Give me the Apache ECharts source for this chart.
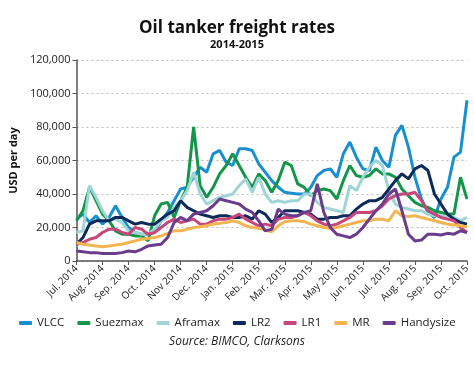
<!DOCTYPE html>
<html><head><meta charset="utf-8">
<script src="https://cdn.jsdelivr.net/npm/echarts@6/dist/echarts.min.js"></script>
<style>html,body{margin:0;padding:0;background:#fff}#c{width:474px;height:365px}</style>
</head><body><div id="c"></div>
<script>
// Month tick labels (one every 4 weekly points)
const monthLabels = ['Jul. 2014','Aug. 2014','Sep. 2014','Oct. 2014','Nov 2014','Dec. 2014','Jan. 2015','Feb. 2015','Mar. 2015','Apr. 2015','May 2015','Jun. 2015','Jul. 2015','Aug. 2015','Sep. 2015','Oct. 2015'];
const seriesNames = ['VLCC','Suezmax','Aframax','LR2','LR1','MR','Handysize'];
const yTicks = [0,20000,40000,60000,80000,100000,120000];

// Weekly values, USD per day (61 points, Jul 2014 - Oct 2015)
const vlcc = [25000,28000,23000,27000,22000,26000,33000,26000,20000,17000,16000,16000,17000,24000,29000,36000,43000,44000,50000,56000,53000,64000,66000,59000,57000,67000,67000,66000,58000,53000,48000,44000,41000,40500,40000,40000,44000,51000,54000,55000,50000,64000,71000,62000,55000,54000,68000,60000,56000,75000,81000,68000,50000,37000,29000,26000,37000,44000,62000,65000,96000];
const suezmax = [24000,30000,44000,36000,28000,24000,18000,16000,16000,15000,15000,12000,27000,34000,35000,26000,36000,44000,80000,45000,38000,44000,52000,57000,64000,57000,50000,44000,52000,48000,41000,48000,59000,57000,46000,44000,39000,42000,43000,42000,37000,48000,57000,51000,50000,51000,55000,52000,52000,50000,43000,39000,35000,33000,32000,30000,29000,28000,28000,50000,37000];
const aframax = [17000,18000,45000,38000,30000,24000,25000,23000,18000,17000,16000,16000,19000,24000,26000,32000,36000,42000,53000,40000,34000,36000,38000,39000,40000,45000,49000,41000,50000,40000,35000,36000,35000,36000,36000,40000,40000,35000,32000,31000,30000,29000,45000,42000,50000,56000,60000,57000,42000,34000,32000,31000,30000,30000,28000,27000,27000,26000,26000,24000,26000];
const lr2 = [10000,14000,22000,24000,24000,24000,26000,26000,24000,22000,23000,22000,22000,25000,28000,30000,36000,32000,30000,28000,27000,26000,27000,27000,26000,26000,27000,25000,30000,28000,23000,26000,30000,30000,30000,29000,28000,25000,25000,26000,26000,27000,27000,31000,34000,36000,36000,38000,43000,48000,52000,49000,55000,57000,54000,40000,34000,28000,25000,23000,22000];
const lr1 = [10000,11000,13000,14000,17000,19000,19000,17000,16000,20000,19000,16000,17000,20000,23000,25000,23000,24000,25000,22000,22000,24000,25000,25000,26000,28000,25000,23000,21000,22000,21000,25000,26000,26000,27000,29000,27000,24000,22000,21000,22000,24000,26000,29000,29000,29000,30000,33000,37000,39000,40000,40000,41000,36000,30000,28000,26000,25000,24000,20000,17000];
const mr = [11000,10000,9500,9000,8500,9000,9500,10000,11000,12000,13000,13500,14000,15000,16500,18000,18000,19000,20000,20500,21000,22000,22500,23000,24000,23000,21000,20000,19500,18500,17500,21000,23500,24000,24000,23500,22000,21000,20000,19500,20000,21000,22000,23000,24000,24000,25000,25000,24000,30000,27000,26500,27000,26000,25000,24000,23000,22000,21500,21000,20500];
const handysize = [6000,5500,5000,5000,4500,4500,4500,5000,6000,5500,7000,9000,9500,10000,14000,23000,26000,24000,28000,29000,30000,33000,37000,36000,35000,34000,31000,29000,24000,18000,19000,31000,28000,27000,27000,29000,30000,46000,29000,20000,16000,15000,14000,16000,20000,25000,30000,34000,40000,43000,30000,16000,12000,12500,16000,16000,15500,16500,16000,18000,17000];

const seriesData = [vlcc, suezmax, aframax, lr2, lr1, mr, handysize];
const colors = ['#1a8fd0','#13964a','#9fd5d6','#0c2a5a','#c8467a','#f2b552','#6b3c8c'];
const weeks = vlcc.map((_, i) => 'w' + i);

const font = '"Open Sans", "Noto Sans", sans-serif';
const chart = echarts.init(document.getElementById('c'), null, {renderer: 'canvas'});
chart.setOption({
  backgroundColor: '#fff',
  animation: false,
  color: colors,
  textStyle: {fontFamily: font},
  title: [
    {text: 'Oil tanker freight rates', subtext: '2014-2015', left: 'center', top: 15, itemGap: 2,
     textStyle: {fontSize: 17, fontWeight: 'bold', color: '#111', fontFamily: font},
     subtextStyle: {fontSize: 11, fontWeight: 'bold', color: '#111', fontFamily: font}},
    {text: 'Source: BIMCO, Clarksons', left: 'center', top: 331,
     textStyle: {fontSize: 12, fontStyle: 'italic', fontWeight: 'normal', color: '#222', fontFamily: font}}
  ],
  legend: {
    data: seriesNames, left: 14, top: 312, icon: 'roundRect', itemWidth: 13, itemHeight: 4, itemGap: 13,
    textStyle: {fontSize: 11.5, color: '#222', fontFamily: font}
  },
  grid: {left: 56, right: 7, top: 60, bottom: 104},
  xAxis: {
    type: 'category', data: weeks, boundaryGap: false,
    axisLine: {lineStyle: {color: '#555', width: 1.5}},
    axisTick: {interval: 3, length: 4, lineStyle: {color: '#555'}},
    axisLabel: {interval: 3, rotate: 45, fontSize: 10, color: '#222', margin: 6,
      formatter: (v, i) => (i % 4 === 0 ? monthLabels[i / 4] : '')}
  },
  yAxis: {
    type: 'value', min: yTicks[0], max: yTicks[yTicks.length - 1], interval: yTicks[1] - yTicks[0],
    name: 'USD per day', nameLocation: 'middle', nameGap: 44, nameRotate: 90,
    nameTextStyle: {fontSize: 11, fontWeight: 'bold', color: '#111'},
    axisLine: {show: true, lineStyle: {color: '#555', width: 1.5}},
    axisTick: {show: true, length: 4, lineStyle: {color: '#555'}},
    axisLabel: {fontSize: 11, color: '#222', margin: 6, formatter: v => v.toLocaleString('en-US')},
    splitLine: {lineStyle: {color: '#bbb', type: [2, 3], width: 1}}
  },
  series: seriesNames.map((n, k) => ({
    name: n, type: 'line', data: seriesData[k], symbol: 'none', smooth: false,
    lineStyle: {width: 3, color: colors[k]}, itemStyle: {color: colors[k]}
  }))
});
</script></body></html>
